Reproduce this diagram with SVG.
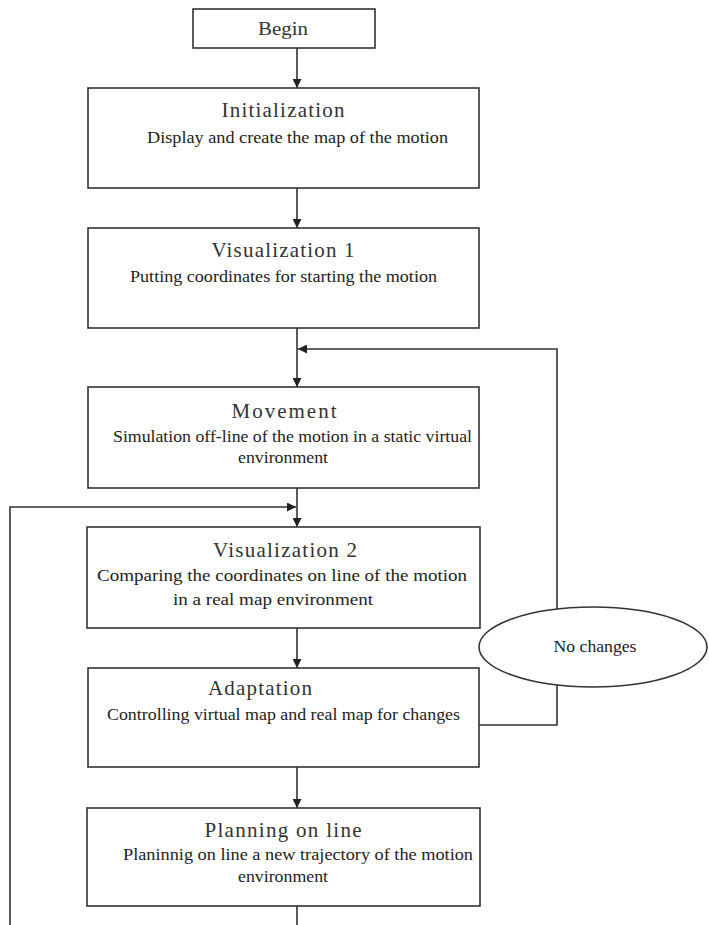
<svg xmlns="http://www.w3.org/2000/svg" width="709" height="925" viewBox="0 0 709 925">
<style>
.box{fill:#fff;stroke:#333;stroke-width:1.6}
.ln{fill:none;stroke:#333;stroke-width:1.6}
.t{font-family:"Liberation Serif",serif;font-size:21px;fill:#333;text-anchor:middle}
.s{font-family:"Liberation Serif",serif;font-size:16px;fill:#222}
.c{font-family:"Liberation Serif",serif;font-size:16px;fill:#222;text-anchor:middle}
</style>
<defs>
<marker id="ah" viewBox="0 0 10 10" refX="10" refY="5" markerWidth="9" markerHeight="9" markerUnits="userSpaceOnUse" orient="auto">
<path d="M0,0 L10,5 L0,10 z" fill="#222"/>
</marker>
</defs>
<rect width="709" height="925" fill="#fff"/>
<g id="connectors">
<line class="ln" x1="297" y1="48" x2="297" y2="88" marker-end="url(#ah)"/>
<line class="ln" x1="297" y1="188" x2="297" y2="228" marker-end="url(#ah)"/>
<line class="ln" x1="297" y1="328" x2="297" y2="387" marker-end="url(#ah)"/>
<line class="ln" x1="297" y1="488" x2="297" y2="527" marker-end="url(#ah)"/>
<line class="ln" x1="297" y1="628" x2="297" y2="668" marker-end="url(#ah)"/>
<line class="ln" x1="297" y1="767" x2="297" y2="808" marker-end="url(#ah)"/>
<line class="ln" x1="297" y1="906" x2="297" y2="925"/>
<polyline class="ln" points="479,725 557,725 557,349 298,349" marker-end="url(#ah)"/>
<polyline class="ln" points="10,925 10,507 296,507" marker-end="url(#ah)"/>
</g>
<g id="begin">
<rect class="box" x="193" y="9" width="182" height="39"/>
<text class="t" x="283" y="35" style="font-size:18px" textLength="50" lengthAdjust="spacingAndGlyphs">Begin</text>
</g>
<g id="initialization">
<rect class="box" x="88" y="88" width="391" height="100"/>
<text class="t" x="283" y="117" textLength="123">Initialization</text>
<text class="s" x="147" y="143" textLength="301" lengthAdjust="spacingAndGlyphs">Display and create the map of the motion</text>
</g>
<g id="visualization1">
<rect class="box" x="88" y="228" width="391" height="100"/>
<text class="t" x="283" y="257" textLength="143">Visualization 1</text>
<text class="s" x="130" y="282" textLength="307" lengthAdjust="spacingAndGlyphs">Putting coordinates for starting the motion</text>
</g>
<g id="movement">
<rect class="box" x="88" y="387" width="391" height="101"/>
<text class="t" x="284" y="418" textLength="105">Movement</text>
<text class="s" x="113" y="442" textLength="359" lengthAdjust="spacingAndGlyphs">Simulation off-line of the motion in a static virtual</text>
<text class="c" x="283" y="463" textLength="90" lengthAdjust="spacingAndGlyphs">environment</text>
</g>
<g id="visualization2">
<rect class="box" x="87" y="527" width="393" height="101"/>
<text class="t" x="285" y="557" textLength="144">Visualization 2</text>
<text class="s" x="97" y="581" textLength="370" lengthAdjust="spacingAndGlyphs">Comparing the  coordinates on line of the motion</text>
<text class="s" x="173" y="605" textLength="200" lengthAdjust="spacingAndGlyphs">in a  real map  environment</text>
</g>
<g id="no-changes">
<ellipse class="box" cx="593" cy="647" rx="114" ry="40"/>
<text class="c" x="595" y="652" textLength="83" lengthAdjust="spacingAndGlyphs">No changes</text>
</g>
<g id="adaptation">
<rect class="box" x="88" y="668" width="391" height="99"/>
<text class="t" x="260" y="695" textLength="104">Adaptation</text>
<text class="s" x="107" y="720" textLength="353" lengthAdjust="spacingAndGlyphs">Controlling virtual map and real map for changes</text>
</g>
<g id="planning">
<rect class="box" x="87" y="808" width="393" height="98"/>
<text class="t" x="283" y="837" textLength="157">Planning on line</text>
<text class="s" x="123" y="860" textLength="350" lengthAdjust="spacingAndGlyphs">Planinnig on line a new trajectory of the motion</text>
<text class="c" x="283" y="882" textLength="90" lengthAdjust="spacingAndGlyphs">environment</text>
</g>
</svg>
